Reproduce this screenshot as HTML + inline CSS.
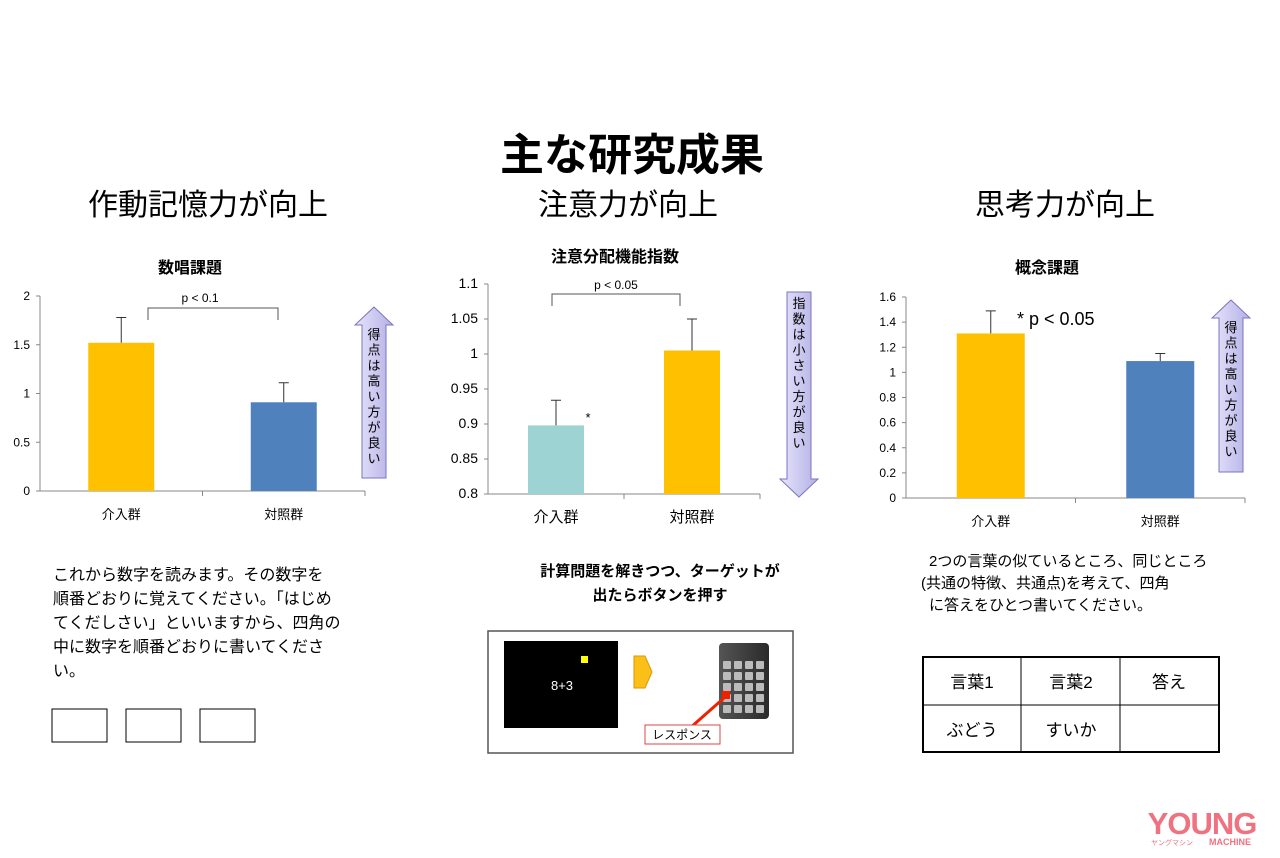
<!DOCTYPE html>
<html><head><meta charset="utf-8"><style>
body{margin:0;background:#fff;width:1280px;height:853px;overflow:hidden;font-family:"Liberation Sans","Noto Sans CJK JP",sans-serif}
svg text{font-family:"Liberation Sans","Noto Sans CJK JP",sans-serif}
</style></head><body>
<svg id="s" width="1280" height="853" viewBox="0 0 1280 853">
<defs><linearGradient id="ag" x1="0" x2="1"><stop offset="0" stop-color="#e6e4fa"/><stop offset="1" stop-color="#b4b0e6"/></linearGradient>
<linearGradient id="kp" x1="0" x2="1"><stop offset="0" stop-color="#555"/><stop offset="1" stop-color="#2a2a2a"/></linearGradient></defs>
<text x="632" y="170" font-size="44" font-weight="bold" text-anchor="middle">主な研究成果</text>
<text x="208" y="215" font-size="30" text-anchor="middle">作動記憶力が向上</text>
<text x="628" y="215" font-size="30" text-anchor="middle">注意力が向上</text>
<text x="1065" y="215" font-size="30" text-anchor="middle">思考力が向上</text>
<g id="c1"></g>
<g id="c2"></g>
<g id="c3"></g>
<g font-size="16">
<text x="53" y="580">これから数字を読みます。その数字を</text>
<text x="53" y="604">順番どおりに覚えてください。「はじめ</text>
<text x="53" y="628">てくだしさい」といいますから、四角の</text>
<text x="53" y="652">中に数字を順番どおりに書いてくださ</text>
<text x="53" y="676">い。</text></g>
<rect x="52" y="709" width="55" height="33" fill="none" stroke="#000"/>
<rect x="126" y="709" width="55" height="33" fill="none" stroke="#000"/>
<rect x="200" y="709" width="55" height="33" fill="none" stroke="#000"/>
<g font-size="15" font-weight="bold" text-anchor="middle">
<text x="660" y="576">計算問題を解きつつ、ターゲットが</text><text x="660" y="600">出たらボタンを押す</text></g>
<g>
<rect x="488" y="631" width="305" height="122" fill="#fff" stroke="#555" stroke-width="1.5"/>
<rect x="504" y="641" width="114" height="87" fill="#000"/>
<rect x="581" y="656" width="7" height="7" fill="#ff0"/>
<text x="562" y="690" fill="#fff" font-size="13" text-anchor="middle">8+3</text>
<polygon points="634,656 645,656 652,672 645,688 634,688" fill="#fbbf1a" stroke="#d99a00"/>
<rect x="719" y="643" width="50" height="76" rx="4" fill="url(#kp)"/>
<g fill="#bbb" id="keys"></g>
<rect x="722" y="691" width="8" height="8" fill="#f02000"/>
<line x1="724" y1="698" x2="690" y2="728" stroke="#f02000" stroke-width="3"/>
<rect x="645" y="725" width="75" height="19" fill="#fff" stroke="#d44" />
<text x="682" y="739" font-size="12" text-anchor="middle">レスポンス</text></g>
<g font-size="15">
<text x="929" y="566">2つの言葉の似ているところ、同じところ</text>
<text x="921" y="588">(共通の特徴、共通点)を考えて、四角</text>
<text x="929" y="610">に答えをひとつ書いてください。</text></g>
<g font-size="17" text-anchor="middle">
<rect x="923" y="657" width="296" height="95" fill="none" stroke="#000" stroke-width="2"/>
<line x1="923" y1="705" x2="1219" y2="705" stroke="#000"/>
<line x1="1021" y1="657" x2="1021" y2="752" stroke="#000"/>
<line x1="1120" y1="657" x2="1120" y2="752" stroke="#000"/>
<text x="972" y="688">言葉1</text><text x="1071" y="688">言葉2</text><text x="1169" y="688">答え</text>
<text x="972" y="736">ぶどう</text><text x="1071" y="736">すいか</text></g>
<g fill="#ee7280">
<text x="1202" y="834" font-size="31" font-weight="900" text-anchor="middle" font-family="Liberation Sans" style="letter-spacing:-1px">YOUNG</text>
<text x="1230" y="845" font-size="9" font-weight="bold" text-anchor="middle">MACHINE</text>
<text x="1172" y="845" font-size="7" text-anchor="middle">ヤングマシン</text></g>
</svg>
<script>
const NS="http://www.w3.org/2000/svg";
function mk(p,t,a,txt){const e=document.createElementNS(NS,t);for(const k in a)e.setAttribute(k,a[k]);if(txt!==undefined)e.textContent=txt;p.appendChild(e);return e;}
// keypad keys
const kg=document.getElementById('keys');
for(let r=0;r<5;r++)for(let c=0;c<4;c++){mk(kg,'rect',{x:723+c*11,y:661+r*11,width:8,height:8,rx:1});}

const cat1=["介入群","対照群"], val1=[1.52,0.91], err1=[0.26,0.20], ticks1=[0,0.5,1,1.5,2], tickLbl1=["0","0.5","1","1.5","2"];
const cat2=["介入群","対照群"], val2=[0.898,1.005], err2=[0.036,0.045], ticks2=[0.8,0.85,0.9,0.95,1,1.05,1.1], tickLbl2=["0.8","0.85","0.9","0.95","1","1.05","1.1"];
const cat3=["介入群","対照群"], val3=[1.31,1.09], err3=[0.18,0.06], ticks3=[0,0.2,0.4,0.6,0.8,1,1.2,1.4,1.6], tickLbl3=["0","0.2","0.4","0.6","0.8","1","1.2","1.4","1.6"];

function chart(id,o,cats,vals,errs,ticks,lbls){
 const g=document.getElementById(id);
 const y=v=>o.y0-(v-o.vmin)/(o.vmax-o.vmin)*(o.y0-o.y1);
 mk(g,'line',{x1:o.x0,y1:o.y1,x2:o.x0,y2:o.y0,stroke:'#888'});
 mk(g,'line',{x1:o.x0,y1:o.y0,x2:o.x2,y2:o.y0,stroke:'#888'});
 ticks.forEach((t,i)=>{mk(g,'line',{x1:o.x0-4,y1:y(t),x2:o.x0,y2:y(t),stroke:'#888'});
  const tx=mk(g,'text',{x:o.x0-10,y:y(t)+4,'font-size':o.fs,'text-anchor':'end'},lbls[i]);
  
  });
 const n=cats.length, bw=(o.x2-o.x0)/n;
 cats.forEach((c,i)=>{const cx=o.x0+bw*(i+0.5);
  mk(g,'line',{x1:o.x0+bw*(i+1),y1:o.y0,x2:o.x0+bw*(i+1),y2:o.y0+5,stroke:'#888'});
  const b=mk(g,'rect',{x:cx-o.w/2,y:y(vals[i]),width:o.w,height:o.y0-y(vals[i]),fill:o.colors[i]});
  
  
  const e=mk(g,'path',{d:`M${cx} ${y(vals[i])}V${y(vals[i]+errs[i])}M${cx-5} ${y(vals[i]+errs[i])}H${cx+5}`,stroke:'#333',fill:'none'});
  
  
  const l=mk(g,'text',{x:cx,y:o.y0+28,'font-size':o.fs+1,'text-anchor':'middle'},c);
  
  
 });
 const t=mk(g,'text',{x:o.tx,y:o.ty,'font-size':16,'font-weight':'bold','text-anchor':'middle'},o.title);
 
 
 return {y,cx:i=>o.x0+bw*(i+0.5)};
}
function arrow(p,x,yt,yb,up,txt){
 const w=38,sw=24,hh=18,m=x+w/2;
 const d=up?`M${m} ${yt}L${x+w} ${yt+hh}H${m+sw/2}V${yb}H${m-sw/2}V${yt+hh}H${x}Z`
          :`M${m} ${yb}L${x+w} ${yb-hh}H${m+sw/2}V${yt}H${m-sw/2}V${yb-hh}H${x}Z`;
 const a=mk(p,'path',{d,fill:'url(#ag)',stroke:'#7a76c0'});
 
 
 const chars=[...txt];const start=up?yt+hh+14:yt+16;
 chars.forEach((c,i)=>mk(p,'text',{x:m,y:start+i*15.5,'font-size':13,'text-anchor':'middle'},c));
}
chart('c1',{x0:40,x2:365,y0:491,y1:296,vmin:0,vmax:2,w:66,fs:12,colors:['#ffc000','#4f81bd'],title:'数唱課題',tx:190,ty:273},cat1,val1,err1,ticks1,tickLbl1);
const g1=document.getElementById('c1');
mk(g1,'path',{d:'M148 320V308H278V320',stroke:'#555',fill:'none'});
mk(g1,'text',{x:200,y:302,'font-size':12,'text-anchor':'middle'},'p < 0.1');
arrow(g1,355,307,478,true,'得点は高い方が良い');

chart('c2',{x0:488,x2:760,y0:494,y1:284,vmin:0.8,vmax:1.1,w:56,fs:14,colors:['#9dd3d3','#ffc000'],title:'注意分配機能指数',tx:615,ty:262},cat2,val2,err2,ticks2,tickLbl2);
const g2=document.getElementById('c2');
mk(g2,'path',{d:'M552 306V294H680V306',stroke:'#555',fill:'none'});
mk(g2,'text',{x:616,y:289,'font-size':12,'text-anchor':'middle'},'p < 0.05');
mk(g2,'text',{x:588,y:422,'font-size':13,'text-anchor':'middle'},'*');
arrow(g2,780,292,497,false,'指数は小さい方が良い');

chart('c3',{x0:906,x2:1245,y0:498,y1:297,vmin:0,vmax:1.6,w:68,fs:12,colors:['#ffc000','#4f81bd'],title:'概念課題',tx:1047,ty:273},cat3,val3,err3,ticks3,tickLbl3);
const g3=document.getElementById('c3');
mk(g3,'text',{x:1017,y:325,'font-size':18},'* p < 0.05');
arrow(g3,1212,300,472,true,'得点は高い方が良い');
</script>
</body></html>
